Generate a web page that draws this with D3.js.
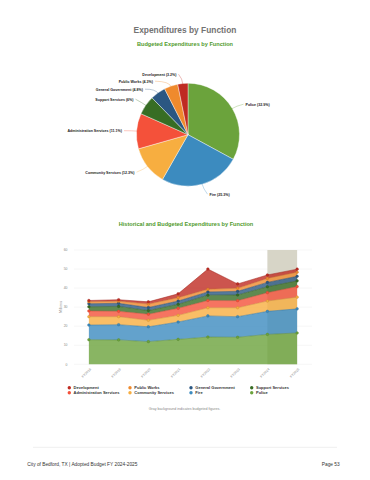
<!DOCTYPE html>
<html><head><meta charset="utf-8">
<script src="https://cdn.jsdelivr.net/npm/d3@7"></script>
<style>body{margin:0;background:#fff}svg{display:block}text{font-family:"Liberation Sans",Arial,sans-serif}</style>
</head><body>
<script>
// ---- data ----
const years = ["FY2018","FY2019","FY2020","FY2021","FY2022","FY2023","FY2024","FY2025"];
const series = ["Police","Fire","Community Services","Administration Services","Support Services","General Government","Public Works","Development"];
const police   = [12.9,12.8,11.9,13.1,14.3,14.2,15.7,16.45];
const fire     = [7.7,8.0,7.8,9.1,11.1,10.8,12.1,12.65];
const community= [4.4,4.2,3.4,3.5,4.3,4.7,5.4,6.15];
const admin    = [3.0,2.8,3.2,3.7,3.8,3.7,4.4,5.55];
const support  = [2.2,2.6,1.9,2.1,2.8,3.0,3.1,3.0];
const genGov   = [1.6,1.6,1.6,1.7,1.7,1.9,2.3,2.4];
const pubWorks = [1.0,1.1,1.8,1.8,1.4,1.6,2.1,2.15];
const develop  = [0.7,0.8,1.2,2.0,10.6,2.3,1.8,1.6];
const pieNames = ["Police","Fire","Community Services","Administration Services","Support Services","General Government","Public Works","Development"];
const piePct   = [32.9,25.3,12.3,11.1,6,4.8,4.3,3.2];
const yTicks   = [0,10,20,30,40,50,60];
const budgeted = ["FY2024","FY2025"];
const legendOrder = ["Development","Public Works","General Government","Support Services","Administration Services","Community Services","Fire","Police"];

const colors = {
  "Police":"#6ba33c","Fire":"#3c8bbf","Community Services":"#f7ae40","Administration Services":"#f4513a",
  "Support Services":"#376d24","General Government":"#2b5782","Public Works":"#ef8a2d","Development":"#bf2b22"
};
const vals = [police,fire,community,admin,support,genGov,pubWorks,develop];

const W=370,H=480;
const svg=d3.select("body").append("svg").attr("width",W).attr("height",H);

// titles
svg.append("text").attr("x",185).attr("y",32.5).attr("text-anchor","middle")
  .attr("font-size",8.4).attr("font-weight","bold").attr("fill","#737373").text("Expenditures by Function");
svg.append("text").attr("x",185).attr("y",45.5).attr("text-anchor","middle")
  .attr("font-size",5.6).attr("font-weight","bold").attr("fill","#4f9a2c").text("Budgeted Expenditures by Function");

// ---- pie ----
const cx=188, cy=134.7, R=51.5;
const pieData = d3.pie().sort(null).value(d=>d.v)(pieNames.map((n,i)=>({n,v:piePct[i]})));
const arc=d3.arc().innerRadius(0).outerRadius(R);
const gp=svg.append("g").attr("transform",`translate(${cx},${cy})`);
gp.selectAll("path").data(pieData).join("path").attr("d",arc)
  .attr("fill",d=>colors[d.data.n]).attr("stroke","#fff").attr("stroke-width",0.4);

const labelPos = {
  "Development":[176.5,75.5,"end"],
  "Public Works":[153,82.5,"end"],
  "General Government":[143,90.5,"end"],
  "Support Services":[133.5,100.5,"end"],
  "Police":[245.5,105.5,"start"],
  "Administration Services":[122,132,"end"],
  "Community Services":[134.5,173.5,"end"],
  "Fire":[209.5,195.5,"start"]
};
pieData.forEach(d=>{
  const n=d.data.n, p=labelPos[n];
  const a=(d.startAngle+d.endAngle)/2;
  const ex=cx+Math.sin(a)*(R-1), ey=cy-Math.cos(a)*(R-1);
  const mx=cx+Math.sin(a)*(R+5), my=cy-Math.cos(a)*(R+5);
  const lx = p[2]==="end"? p[0]+2 : p[0]-2, ly=p[1]-1.3;
  svg.append("path").attr("d",`M${ex},${ey}Q${mx},${my} ${lx},${ly}`)
    .attr("fill","none").attr("stroke",colors[n]).attr("stroke-width",0.4).attr("opacity",0.8);
  svg.append("text").attr("x",p[0]).attr("y",p[1]).attr("text-anchor",p[2])
    .attr("font-size",3.6).attr("font-weight","bold").attr("fill","#222")
    .text(`${n} (${d.data.v}%)`);
});

// ---- stacked area ----
svg.append("text").attr("x",186).attr("y",226).attr("text-anchor","middle")
  .attr("font-size",5.6).attr("font-weight","bold").attr("fill","#4f9a2c").text("Historical and Budgeted Expenditures by Function");

const x=d3.scalePoint().domain(years).range([74,312]).padding(0.5);
const y=d3.scaleLinear().domain([0,60]).range([364.3,250]);

svg.append("g").selectAll("line").data(yTicks).join("line")
  .attr("x1",74).attr("x2",312).attr("y1",d=>y(d)).attr("y2",d=>y(d))
  .attr("stroke","#ececec").attr("stroke-width",0.5);
svg.append("g").selectAll("text").data(yTicks).join("text")
  .attr("x",67.5).attr("y",d=>y(d)+1.2).attr("text-anchor","end")
  .attr("font-size",3.4).attr("fill","#888").text(d=>d);
svg.append("text").attr("transform","translate(61.5,307) rotate(-90)").attr("text-anchor","middle")
  .attr("font-size",3.6).attr("fill","#888").text("Millions");

svg.append("rect").attr("x",x(budgeted[0])).attr("width",x(budgeted[1])-x(budgeted[0]))
  .attr("y",y(60)).attr("height",y(0)-y(60)).attr("fill","#d7d5c7");

const table = years.map((yr,i)=>{const o={year:yr}; series.forEach((s,j)=>o[s]=vals[j][i]); return o;});
const stack=d3.stack().keys(series)(table);
const area=d3.area().x(d=>x(d.data.year)).y0(d=>y(d[0])).y1(d=>y(d[1]));
const line=d3.line().x(d=>x(d.data.year)).y(d=>y(d[1]));
const ga=svg.append("g");
stack.forEach(s=>{
  ga.append("path").attr("d",area(s)).attr("fill",colors[s.key]).attr("fill-opacity",0.8);
});
stack.forEach(s=>{
  ga.append("path").attr("d",line(s)).attr("fill","none").attr("stroke",d3.color(colors[s.key]).darker(0.5)).attr("stroke-width",0.5);
});
stack.forEach(s=>{
  ga.selectAll(null).data(s).join("circle").attr("cx",d=>x(d.data.year)).attr("cy",d=>y(d[1])).attr("r",1.3)
    .attr("fill",colors[s.key]).attr("stroke",d3.color(colors[s.key]).darker(0.6)).attr("stroke-width",0.4);
});

svg.append("g").selectAll("text").data(years).join("text")
  .attr("transform",d=>`translate(${x(d)+2.5},${369.5}) rotate(-45)`).attr("text-anchor","end")
  .attr("font-size",3.4).attr("fill","#888").text(d=>d);

// legend
const colX=[69.3,130,191,251.7], rowY=[387.7,392.7];
legendOrder.forEach((n,i)=>{
  const cxl=colX[i%4], cyl=rowY[Math.floor(i/4)];
  svg.append("circle").attr("cx",cxl).attr("cy",cyl).attr("r",1.7).attr("fill",colors[n]);
  svg.append("text").attr("x",cxl+4.3).attr("y",cyl+1.4).attr("font-size",4.0).attr("font-weight","bold").attr("fill","#333").text(n);
});
svg.append("text").attr("x",184.5).attr("y",410).attr("text-anchor","middle")
  .attr("font-size",3.6).attr("fill","#888").text("Gray background indicates budgeted figures.");

// footer
svg.append("line").attr("x1",33).attr("x2",337).attr("y1",447.3).attr("y2",447.3).attr("stroke","#e2e2e2").attr("stroke-width",0.6);
svg.append("text").attr("x",27.3).attr("y",465.8).attr("font-size",4.8).attr("fill","#333").text("City of Bedford, TX | Adopted Budget FY 2024-2025");
svg.append("text").attr("x",339.7).attr("y",465.8).attr("text-anchor","end").attr("font-size",4.8).attr("fill","#333").text("Page 53");
</script>
</body></html>
